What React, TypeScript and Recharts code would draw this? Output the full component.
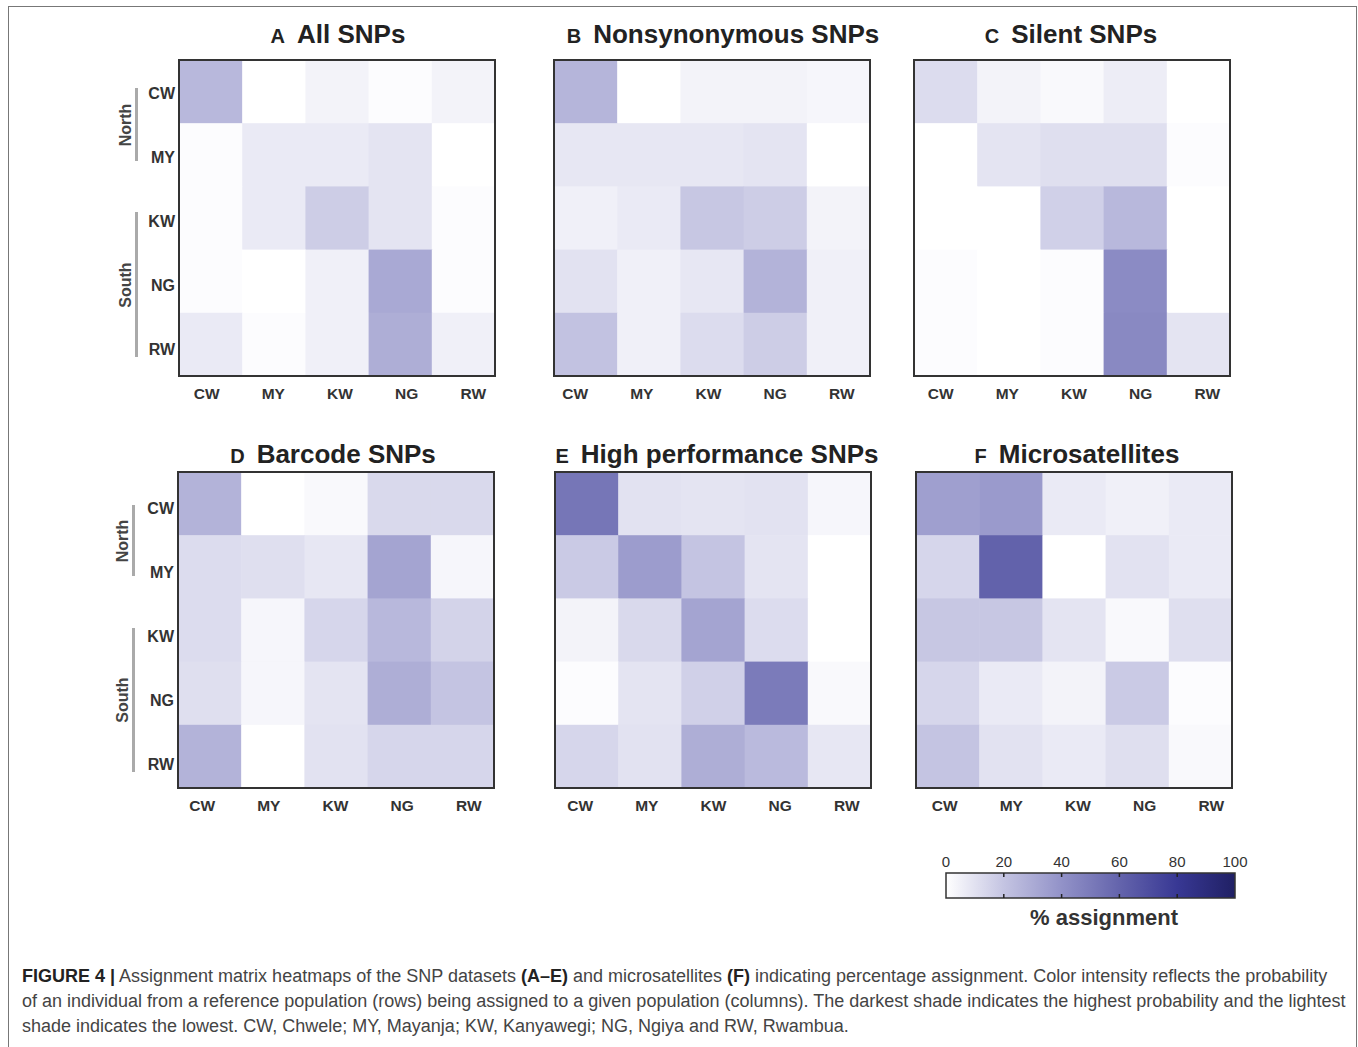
import { ScatterChart, Scatter, XAxis, YAxis } from 'recharts';

const populations = ['CW', 'MY', 'KW', 'NG', 'RW'];

// % assignment, rows = reference population, columns = assigned population
const allSnps = [
  [25, 0, 4, 1, 4],
  [1, 7, 7, 9, 0],
  [1, 7, 17, 9, 1],
  [1, 0, 5, 31, 1],
  [7, 1, 5, 29, 5],
];
const nonsynonymousSnps = [
  [26, 0, 4, 4, 3],
  [8, 8, 8, 9, 0],
  [5, 7, 19, 17, 4],
  [10, 5, 8, 27, 5],
  [21, 5, 12, 17, 5],
];
const silentSnps = [
  [12, 4, 2, 6, 0],
  [0, 9, 11, 11, 1],
  [0, 0, 16, 25, 0],
  [1, 0, 1, 43, 0],
  [1, 0, 1, 44, 9],
];
const barcodeSnps = [
  [27, 0, 2, 13, 13],
  [12, 11, 8, 33, 3],
  [12, 3, 14, 25, 15],
  [11, 3, 9, 29, 20],
  [27, 0, 10, 14, 14],
];
const highPerfSnps = [
  [52, 10, 9, 10, 3],
  [18, 36, 20, 9, 0],
  [4, 13, 33, 12, 0],
  [1, 9, 16, 50, 2],
  [14, 10, 29, 24, 8],
];
const microsatellites = [
  [35, 37, 7, 5, 7],
  [14, 61, 0, 10, 7],
  [19, 19, 9, 2, 11],
  [14, 7, 4, 18, 1],
  [20, 10, 7, 11, 2],
];

const scaleTicks = [0, 20, 40, 60, 80, 100];

const colorStops: [number, number[]][] = [
  [0, [255, 255, 255]],
  [20, [196, 196, 226]],
  [40, [146, 146, 200]],
  [60, [100, 100, 172]],
  [80, [56, 56, 148]],
  [100, [32, 32, 100]],
];

function colorFor(v: number) {
  for (let k = 1; k < colorStops.length; k++) {
    const [v1, c1] = colorStops[k];
    const [v0, c0] = colorStops[k - 1];
    if (v <= v1) {
      const t = (v - v0) / (v1 - v0);
      const c = c0.map((a, i) => Math.round(a + (c1[i] - a) * t));
      return `rgb(${c.join(',')})`;
    }
  }
  return 'rgb(32,32,100)';
}

const PLOT = 316;
const CELL = PLOT / 5;
const FONT = '"Liberation Sans", Arial, Helvetica, sans-serif';

const panels = [
  { letter: 'A', title: 'All SNPs', values: allSnps, px: 179, py: 60, rows: true, rowShift: 1, colShift: 3, tx: 338, ty: 34 },
  { letter: 'B', title: 'Nonsynonymous SNPs', values: nonsynonymousSnps, px: 554, py: 60, rows: false, rowShift: 0, colShift: -3.5, tx: 723, ty: 34 },
  { letter: 'C', title: 'Silent SNPs', values: silentSnps, px: 914, py: 60, rows: false, rowShift: 0, colShift: 2, tx: 1071, ty: 34 },
  { letter: 'D', title: 'Barcode SNPs', values: barcodeSnps, px: 178, py: 472, rows: true, rowShift: 4, colShift: -0.5, tx: 333, ty: 454 },
  { letter: 'E', title: 'High performance SNPs', values: highPerfSnps, px: 555, py: 472, rows: false, rowShift: 0, colShift: 0.5, tx: 717, ty: 454 },
  { letter: 'F', title: 'Microsatellites', values: microsatellites, px: 916, py: 472, rows: false, rowShift: 0, colShift: 4, tx: 1077, ty: 454 },
];

function CellShape(props: any) {
  const { cx, cy, payload } = props;
  return (
    <rect
      x={cx - CELL / 2}
      y={cy - CELL / 2}
      width={CELL + 0.6}
      height={CELL + 0.6}
      fill={colorFor(payload.v)}
    />
  );
}

function Heatmap({ values, rows, rowShift, colShift }: { values: number[][]; rows: boolean; rowShift: number; colShift: number }) {
  const points = values.flatMap((row, i) => row.map((v, j) => ({ x: j + 0.5, y: i + 0.5, v })));

  const ColTick = (props: any) => {
    const { x, y, payload } = props;
    const shifted = 100 + PLOT / 2 + (x - 100 - PLOT / 2) * 1.055 + colShift;
    return (
      <text x={shifted} y={y} dy={15} textAnchor="middle" fontFamily={FONT} fontWeight="bold" fontSize={15.5} fill="#333">
        {populations[Math.floor(payload.value)]}
      </text>
    );
  };

  const RowTick = (props: any) => {
    const { y, payload } = props;
    return (
      <text x={96} y={y * 1.012 + rowShift} dy={6} textAnchor="end" fontFamily={FONT} fontWeight="bold" fontSize={16} fill="#333">
        {populations[Math.floor(payload.value)]}
      </text>
    );
  };

  return (
    <ScatterChart width={100 + PLOT + 10} height={PLOT + 40} margin={{ top: 0, right: 10, bottom: 0, left: 0 }}>
      <XAxis
        type="number"
        dataKey="x"
        domain={[0, 5]}
        ticks={[0.5, 1.5, 2.5, 3.5, 4.5]}
        interval={0}
        axisLine={false}
        tickLine={false}
        height={40}
        tick={<ColTick />}
      />
      <YAxis
        type="number"
        dataKey="y"
        domain={[0, 5]}
        reversed
        ticks={[0.5, 1.5, 2.5, 3.5, 4.5]}
        interval={0}
        axisLine={false}
        tickLine={false}
        width={100}
        tick={rows ? <RowTick /> : false}
      />
      <Scatter data={points} shape={CellShape} isAnimationActive={false} />
    </ScatterChart>
  );
}

function GroupLabel({ text, x, y0, y1 }: { text: string; x: number; y0: number; y1: number }) {
  const mid = (y0 + y1) / 2;
  return (
    <>
      <div style={{ position: 'absolute', left: x, top: y0, width: 3, height: y1 - y0, background: '#aaa' }} />
      <div
        style={{
          position: 'absolute',
          left: x - 9 - 40,
          top: mid - 10,
          width: 80,
          height: 20,
          lineHeight: '20px',
          textAlign: 'center',
          transform: 'rotate(-90deg)',
          fontFamily: FONT,
          fontWeight: 'bold',
          fontSize: 16,
          color: '#444',
        }}
      >
        {text}
      </div>
    </>
  );
}

function ColorBar() {
  const x0 = 16;
  const w = 289;
  return (
    <svg width={330} height={90} style={{ position: 'absolute', left: 930, top: 848 }}>
      <defs>
        <linearGradient id="scaleGrad" x1="0" x2="1" y1="0" y2="0">
          {colorStops.map(([v]) => (
            <stop key={v} offset={`${v}%`} stopColor={colorFor(v)} />
          ))}
        </linearGradient>
      </defs>
      <rect x={x0} y={25} width={w} height={25} fill="url(#scaleGrad)" stroke="#333" strokeWidth={1.5} />
      {scaleTicks.map((t) => (
        <g key={t}>
          <text x={x0 + (t / 100) * w} y={19} textAnchor="middle" fontFamily={FONT} fontSize={15} fill="#333">
            {t}
          </text>
          {t > 0 && t < 100 && (
            <>
              <line x1={x0 + (t / 100) * w} x2={x0 + (t / 100) * w} y1={25} y2={29} stroke="#222" strokeWidth={1.5} />
              <line x1={x0 + (t / 100) * w} x2={x0 + (t / 100) * w} y1={46} y2={50} stroke="#222" strokeWidth={1.5} />
            </>
          )}
        </g>
      ))}
      <text x={174} y={77} textAnchor="middle" fontFamily={FONT} fontWeight="bold" fontSize={22} fill="#333">
        % assignment
      </text>
    </svg>
  );
}

export default function App() {
  return (
    <div style={{ position: 'absolute', left: 0, top: 0, width: 1358, height: 1047, background: '#fff', overflow: 'hidden', fontFamily: FONT }}>
      <div style={{ position: 'absolute', left: 8, top: 6, width: 1349, height: 1060, border: '1px solid #777', boxSizing: 'border-box' }} />
      {panels.map((p) => (
        <div key={p.letter}>
          <div
            style={{
              position: 'absolute',
              left: p.tx - 250,
              top: p.ty - 17,
              width: 500,
              height: 34,
              lineHeight: '34px',
              textAlign: 'center',
              fontWeight: 'bold',
              color: '#222',
              whiteSpace: 'nowrap',
            }}
          >
            <span style={{ fontSize: 20 }}>{p.letter}</span>
            <span style={{ fontSize: 26, marginLeft: 12 }}>{p.title}</span>
          </div>
          <div style={{ position: 'absolute', left: p.px - 100, top: p.py }}>
            <Heatmap values={p.values} rows={p.rows} rowShift={p.rowShift} colShift={p.colShift} />
          </div>
          <div
            style={{
              position: 'absolute',
              left: p.px - 1,
              top: p.py - 1,
              width: PLOT + 2,
              height: PLOT + 2,
              border: '2px solid #333',
              boxSizing: 'border-box',
              pointerEvents: 'none',
            }}
          />
        </div>
      ))}
      <GroupLabel text="North" x={135} y0={88} y1={161} />
      <GroupLabel text="South" x={135} y0={212} y1={357} />
      <GroupLabel text="North" x={132} y0={505} y1={576} />
      <GroupLabel text="South" x={132} y0={628} y1={772} />
      <ColorBar />
      <div
        style={{
          position: 'absolute',
          left: 22,
          top: 964,
          width: 1330,
          fontSize: 18,
          lineHeight: '25px',
          color: '#444',
          whiteSpace: 'nowrap',
        }}
      >
        <b style={{ color: '#222' }}>FIGURE 4 |</b> Assignment matrix heatmaps of the SNP datasets <b style={{ color: '#222' }}>(A–E)</b> and microsatellites{' '}
        <b style={{ color: '#222' }}>(F)</b> indicating percentage assignment. Color intensity reflects the probability
        <br />
        of an individual from a reference population (rows) being assigned to a given population (columns). The darkest shade indicates the highest probability and the lightest
        <br />
        shade indicates the lowest. CW, Chwele; MY, Mayanja; KW, Kanyawegi; NG, Ngiya and RW, Rwambua.
      </div>
    </div>
  );
}
